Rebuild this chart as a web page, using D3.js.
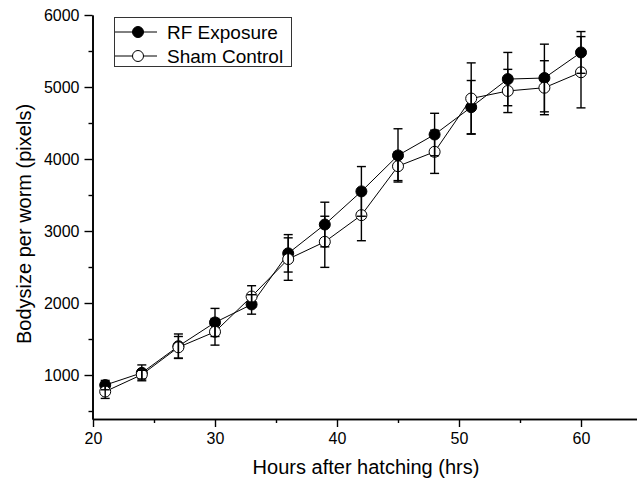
<!DOCTYPE html>
<html><head><meta charset="utf-8">
<script src="https://cdn.jsdelivr.net/npm/d3@7"></script>
<style>
html,body{margin:0;padding:0;background:#fff;}
svg{display:block;font-family:"Liberation Sans",Arial,sans-serif;}
</style></head>
<body>
<script>
const hours = [21,24,27,30,33,36,39,42,45,48,51,54,57,60];
const rfValues = [860,1030,1400,1730,1980,2690,3090,3550,4050,4340,4720,5110,5125,5480];
const rfErrors = [65,110,170,195,135,260,310,345,370,295,370,370,470,290];
const shamValues = [770,1005,1385,1600,2090,2610,2850,3220,3900,4100,4840,4945,4990,5205];
const shamErrors = [95,60,150,185,150,295,355,355,200,300,495,300,375,495];
const xTicks = [20,30,40,50,60];
const yTicks = [1000,2000,3000,4000,5000,6000];
const seriesNames = ["RF Exposure","Sham Control"];

const W = 637, H = 482;
const svg = d3.select("body").append("svg").attr("width",W).attr("height",H);
const x = d3.scaleLinear().domain([20,65]).range([93,642]);
const y = d3.scaleLinear().domain([389,6000]).range([419,15]);

const fmt = d3.format("d");
const xAxis = d3.axisBottom(x).tickValues(xTicks).tickSize(8).tickSizeOuter(0).tickPadding(6).tickFormat(fmt);
const xMinor = d3.axisBottom(x).tickValues([25,35,45,55,65]).tickSize(4).tickSizeOuter(0).tickFormat("");
const yAxis = d3.axisLeft(y).tickValues(yTicks).tickSize(8).tickSizeOuter(0).tickPadding(5).tickFormat(fmt);
const yMinor = d3.axisLeft(y).tickValues([500,1500,2500,3500,4500,5500]).tickSize(4).tickSizeOuter(0).tickFormat("");

function style(g){
  g.select(".domain").attr("stroke","#000").attr("stroke-width",1.6);
  g.selectAll(".tick line").attr("stroke","#000").attr("stroke-width",1.4);
  g.selectAll(".tick text").attr("fill","#000").style("font-size","16px").style("font-family","Liberation Sans, Arial, sans-serif");
}
svg.append("g").attr("transform","translate(0,419)").call(xMinor).call(style);
svg.append("g").attr("transform","translate(0,419)").call(xAxis).call(style);
svg.append("g").attr("transform","translate(92.5,0)").call(yMinor).call(style);
svg.append("g").attr("transform","translate(92.5,0)").call(yAxis).call(style);

svg.append("text").attr("x",366).attr("y",474).attr("text-anchor","middle")
  .style("font-size","20px").text("Hours after hatching (hrs)");
svg.append("text").attr("transform","translate(31,224) rotate(-90)").attr("text-anchor","middle")
  .style("font-size","20px").text("Bodysize per worm (pixels)");

const series = [
  {vals: rfValues, errs: rfErrors, fill:"#000"},
  {vals: shamValues, errs: shamErrors, fill:"#fff"}
];
const line = d3.line().x((d,i)=>x(hours[i])).y(d=>y(d));
series.forEach(s=>{
  svg.append("path").datum(s.vals).attr("d",line).attr("fill","none").attr("stroke","#000").attr("stroke-width",1);
});
series.forEach(s=>{
  svg.append("g").selectAll("circle").data(s.vals).join("circle")
    .attr("cx",(d,i)=>x(hours[i])).attr("cy",d=>y(d)).attr("r",5.5)
    .attr("fill",s.fill).attr("stroke","#000").attr("stroke-width",1);
});
series.forEach(s=>{
  const g = svg.append("g").attr("stroke","#000").attr("stroke-width",1.4);
  s.vals.forEach((v,i)=>{
    const cx = x(hours[i]), e = s.errs[i];
    g.append("line").attr("x1",cx).attr("x2",cx).attr("y1",y(v+e)).attr("y2",y(v-e));
    g.append("line").attr("x1",cx-4.5).attr("x2",cx+4.5).attr("y1",y(v+e)).attr("y2",y(v+e));
    g.append("line").attr("x1",cx-4.5).attr("x2",cx+4.5).attr("y1",y(v-e)).attr("y2",y(v-e));
  });
});

const lg = svg.append("g");
lg.append("rect").attr("x",114.5).attr("y",17.5).attr("width",177).attr("height",49)
  .attr("fill","#fff").attr("stroke","#333").attr("stroke-width",1);
seriesNames.forEach((n,i)=>{
  const yy = 32 + i*24;
  lg.append("line").attr("x1",115).attr("x2",157).attr("y1",yy).attr("y2",yy).attr("stroke","#000").attr("stroke-width",1);
  lg.append("circle").attr("cx",138).attr("cy",yy).attr("r",5.5).attr("fill",series[i].fill).attr("stroke","#000");
  lg.append("text").attr("x",167).attr("y",yy+6.5).style("font-size","19px").text(n);
});
</script>
</body></html>
